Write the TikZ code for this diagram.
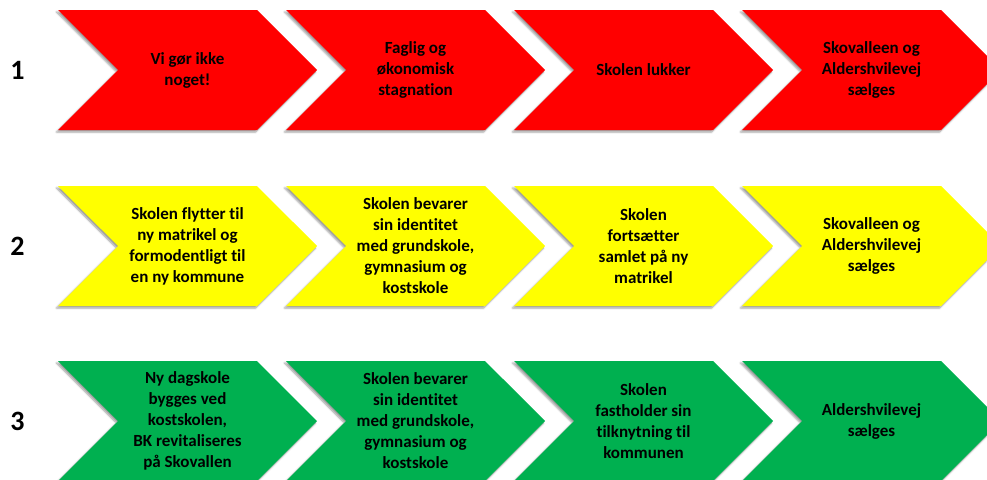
\documentclass[tikz,border=0pt]{standalone}
\usepackage{fontspec}
\setmainfont{Carlito}[Ligatures=NoCommon]
\usetikzlibrary{shapes.symbols,shadows.blur}

\definecolor{stopred}{HTML}{FF0000}
\definecolor{movyellow}{HTML}{FFFF00}
\definecolor{keepgreen}{HTML}{00B050}

\begin{document}
\begin{tikzpicture}[x=1pt, y=-1pt, node distance=228pt,
                    step box/.style={signal, signal to=east, signal from=west,
                      signal pointer angle=90, minimum width=259pt, minimum height=120pt,
                      inner sep=0pt, align=center,
                      font=\fontsize{17}{21}\selectfont\bfseries,
                      blur shadow={shadow xshift=-1.5pt, shadow yshift=-2pt, shadow blur steps=4}},
                    row label/.style={font=\fontsize{28}{32}\selectfont\bfseries}]

    \useasboundingbox (0,0) rectangle (987,479);
    \clip (0,0) rectangle (987,479);

    % scenario 1
    \node[step box, fill=stopred] (a1) at (187.5,70) {Vi gør ikke\\noget!};
    \node[step box, fill=stopred] (a2) [right of=a1] {Faglig og\\økonomisk\\stagnation};
    \node[step box, fill=stopred] (a3) [right of=a2] {Skolen lukker};
    \node[step box, fill=stopred] (a4) [right of=a3] {Skovalleen og\\Aldershvilevej\\sælges};
    \node[row label] (l1) [left of=a1, node distance=170pt] {1};

    % scenario 2
    \node[step box, fill=movyellow] (b1) [below of=a1, node distance=176pt] {Skolen flytter til\\ny matrikel og\\formodentligt til\\en ny kommune};
    \node[step box, fill=movyellow] (b2) [right of=b1] {Skolen bevarer\\sin identitet\\med grundskole,\\gymnasium og\\kostskole};
    \node[step box, fill=movyellow] (b3) [right of=b2] {Skolen\\fortsætter\\samlet på ny\\matrikel};
    \node[step box, fill=movyellow] (b4) [right of=b3] {Skovalleen og\\Aldershvilevej\\sælges};
    \node[row label] (l2) [left of=b1, node distance=170pt] {2};

    % scenario 3
    \node[step box, fill=keepgreen] (c1) [below of=b1, node distance=175pt] {Ny dagskole\\bygges ved\\kostskolen,\\BK revitaliseres\\på Skovallen};
    \node[step box, fill=keepgreen] (c2) [right of=c1] {Skolen bevarer\\sin identitet\\med grundskole,\\gymnasium og\\kostskole};
    \node[step box, fill=keepgreen] (c3) [right of=c2] {Skolen\\fastholder sin\\tilknytning til\\kommunen};
    \node[step box, fill=keepgreen] (c4) [right of=c3] {Aldershvilevej\\sælges};
    \node[row label] (l3) [left of=c1, node distance=170pt] {3};
  \end{tikzpicture}
\end{document}
